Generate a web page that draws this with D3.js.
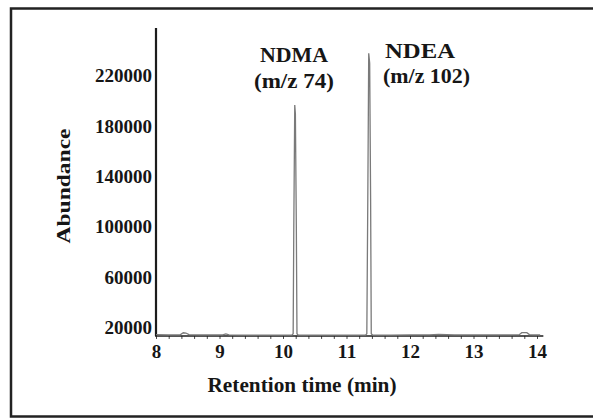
<!DOCTYPE html>
<html>
<head>
<meta charset="utf-8">
<script src="https://cdn.jsdelivr.net/npm/d3@7"></script>
<style>
  body { margin: 0; background: #fff; }
  svg text { font-family: "Liberation Serif", "Times New Roman", serif; font-weight: bold; fill: #161616; }
</style>
</head>
<body>
<svg id="chart" width="593" height="419"></svg>
<script>
// tick labels
var xTicks = [8, 9, 10, 11, 12, 13, 14];
var yTicks = [20000, 60000, 100000, 140000, 180000, 220000];

// chromatogram trace (retention time in min, abundance)
var traceTime = [8.0, 8.2, 8.38, 8.43, 8.47, 8.52, 8.7, 8.9, 9.05, 9.1, 9.15, 9.4, 9.7, 10.0, 10.14,
  10.16, 10.17, 10.185, 10.195, 10.21, 10.22, 10.24, 10.5, 10.8, 11.1, 11.3,
  11.32, 11.335, 11.35, 11.365, 11.38, 11.39, 11.41, 11.7, 12.0, 12.3, 12.45, 12.7, 13.0, 13.3, 13.6,
  13.72, 13.76, 13.84, 13.88, 13.95, 14.05];
var traceAbund = [14700, 14600, 14600, 16200, 16000, 14700, 14600, 14500, 14500, 15300, 14500, 14400, 14300, 14300, 14300,
  15500, 100000, 197000, 190000, 100000, 15500, 14300, 14300, 14300, 14300, 14300,
  15500, 120000, 238000, 230000, 120000, 15500, 14400, 14400, 14500, 14500, 14900, 14600, 14600, 14500, 14600,
  14700, 16300, 16300, 14800, 14600, 14600];

// peak annotations
var peakNames = ["NDMA", "NDEA"];
var peakIons = ["(m/z 74)", "(m/z 102)"];

var svg = d3.select("#chart");

// outer frame (right edge is cut off in the original)
svg.append("rect")
  .attr("x", 11).attr("y", 8.5)
  .attr("width", 620).attr("height", 408)
  .attr("fill", "none")
  .attr("stroke", "#222")
  .attr("stroke-width", 2.5);

var x = d3.scaleLinear().domain([8, 14]).range([156, 537]);
var y = d3.scaleLinear().domain([20000, 220000]).range([328, 76]);
var baseVal = 13700;

// x axis: minor ticks every 0.2 min
var minorTicks = d3.range(0, 31).map(function (i) { return 8 + i * 0.2; });
svg.append("g")
  .attr("transform", "translate(0," + y(baseVal) + ")")
  .call(d3.axisBottom(x).tickValues(minorTicks).tickSize(3).tickFormat(""))
  .call(function (g) { g.select(".domain").remove(); })
  .selectAll("line").attr("stroke", "#444").attr("stroke-width", 1);

var xAxis = svg.append("g")
  .attr("transform", "translate(0," + y(baseVal) + ")")
  .call(d3.axisBottom(x).tickValues(xTicks).tickSize(0).tickPadding(9).tickFormat(d3.format("d")));
xAxis.select(".domain").remove();
xAxis.selectAll("text")
  .attr("font-size", 18)
  .attr("textLength", function (d) { return String(d).length * 9.5; })
  .attr("lengthAdjust", "spacingAndGlyphs");

// y axis labels (no tick marks)
var yAxis = svg.append("g")
  .attr("transform", "translate(156,0)")
  .call(d3.axisLeft(y).tickValues(yTicks).tickSize(0).tickPadding(4).tickFormat(d3.format("d")));
yAxis.select(".domain").remove();
yAxis.selectAll("text")
  .attr("font-size", 18)
  .attr("textLength", function (d) { return String(d).length * 9.5; })
  .attr("lengthAdjust", "spacingAndGlyphs");

// axis lines
svg.append("line")
  .attr("x1", 156).attr("x2", 156)
  .attr("y1", y(258000)).attr("y2", y(baseVal))
  .attr("stroke", "#1c1c1c").attr("stroke-width", 2.2);
svg.append("line")
  .attr("x1", 155).attr("x2", x(14.1))
  .attr("y1", y(baseVal)).attr("y2", y(baseVal))
  .attr("stroke", "#1c1c1c").attr("stroke-width", 1.6);

// trace
var line = d3.line()
  .x(function (d, i) { return x(traceTime[i]); })
  .y(function (d, i) { return y(traceAbund[i]); });
svg.append("path")
  .datum(traceTime)
  .attr("d", line)
  .attr("fill", "none")
  .attr("stroke", "#7a7a7a")
  .attr("stroke-width", 1.3);

// peak labels
var labelPos = [
  { x1: 294, x2: 294, anchor: "middle", y1: 62, y2: 88, w1: 68, w2: 80 },
  { x1: 385, x2: 383, anchor: "start", y1: 58, y2: 83, w1: 70, w2: 87 }
];
peakNames.forEach(function (name, i) {
  var p = labelPos[i];
  var g = svg.append("g");
  g.append("text")
    .attr("x", p.x1).attr("y", p.y1)
    .attr("text-anchor", p.anchor)
    .attr("font-size", 20)
    .attr("textLength", p.w1).attr("lengthAdjust", "spacingAndGlyphs")
    .text(name);
  g.append("text")
    .attr("x", p.x2).attr("y", p.y2)
    .attr("text-anchor", p.anchor)
    .attr("font-size", 20)
    .attr("textLength", p.w2).attr("lengthAdjust", "spacingAndGlyphs")
    .text(peakIons[i]);
});

// axis titles
svg.append("text")
  .attr("x", 302).attr("y", 392)
  .attr("text-anchor", "middle")
  .attr("font-size", 21)
  .attr("textLength", 189).attr("lengthAdjust", "spacingAndGlyphs")
  .text("Retention time (min)");

svg.append("text")
  .attr("transform", "translate(70,186) rotate(-90)")
  .attr("text-anchor", "middle")
  .attr("font-size", 19)
  .attr("textLength", 115).attr("lengthAdjust", "spacingAndGlyphs")
  .text("Abundance");
</script>
</body>
</html>
